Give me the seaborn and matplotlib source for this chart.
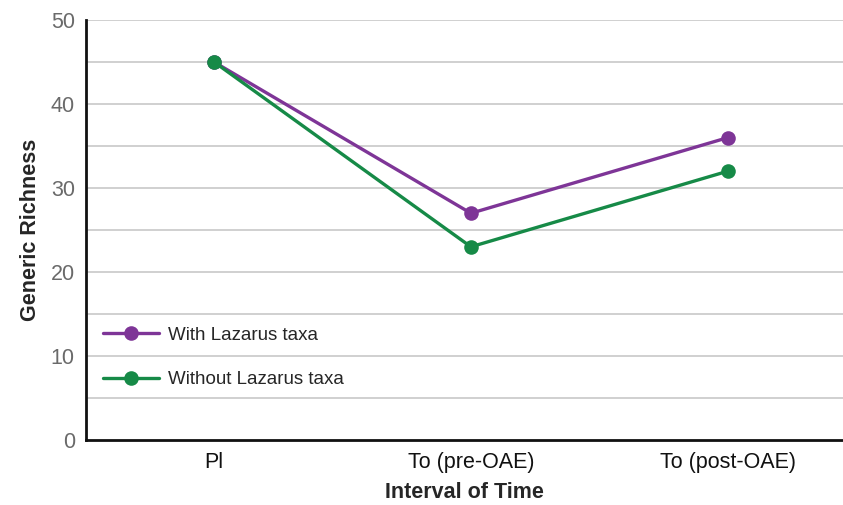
import pandas as pd
import numpy as np
import matplotlib.pyplot as plt
import seaborn as sns

# Данни, отчетени от графиката
intervals = ['Pl', 'To (pre-OAE)', 'To (post-OAE)']
with_lazarus = [45, 27, 36]
without_lazarus = [45, 23, 32]
series_names = ['With Lazarus taxa', 'Without Lazarus taxa']
colors = ['#7e3597', '#168a47']

df = pd.DataFrame({
    'interval': intervals * 2,
    'richness': with_lazarus + without_lazarus,
    'series': [series_names[0]] * 3 + [series_names[1]] * 3,
})
df['pos'] = df['interval'].map({k: i for i, k in enumerate(intervals)})

sns.set_theme(style='white')
plt.rcParams['font.family'] = ['Liberation Sans', 'DejaVu Sans']

fig = plt.figure(figsize=(8.43, 5.05), dpi=100)
ax = fig.add_axes([0.102, 0.129, 0.898, 0.831])

# хоризонтални линии на всеки 5
for y in np.arange(5, 55, 5):
    ax.axhline(y, color='#c8c8c8', lw=1.2, zorder=0)

sns.lineplot(data=df, x='pos', y='richness', hue='series', palette=colors,
             marker='o', markersize=10.5, markeredgewidth=0, linewidth=2.4,
             ax=ax, zorder=3)

ax.set_xlim(-0.5, 2.45)
ax.set_ylim(0, 50)
ax.set_xticks(range(len(intervals)))
ax.set_xticklabels(intervals, fontsize=15.5, color='#111111')
ax.set_yticks(np.arange(0, 51, 10))
ax.tick_params(axis='y', labelsize=15.5, labelcolor='#6a6a6a', length=0, pad=8)
ax.tick_params(axis='x', length=0, pad=9)
ax.set_xlabel('Interval of Time', fontsize=15.5, fontweight='bold', labelpad=6)
ax.set_ylabel('Generic Richness', fontsize=15.5, fontweight='bold', labelpad=7)

for s in ['top', 'right']:
    ax.spines[s].set_visible(False)
for s in ['left', 'bottom']:
    ax.spines[s].set_color('#111111')
    ax.spines[s].set_linewidth(2)

leg = ax.legend(loc='upper left', bbox_to_anchor=(0.0, 0.31), frameon=False,
                fontsize=13.5, handlelength=3.0, handletextpad=0.5, labelspacing=1.45)

plt.savefig('out.png', dpi=100)
plt.close()
